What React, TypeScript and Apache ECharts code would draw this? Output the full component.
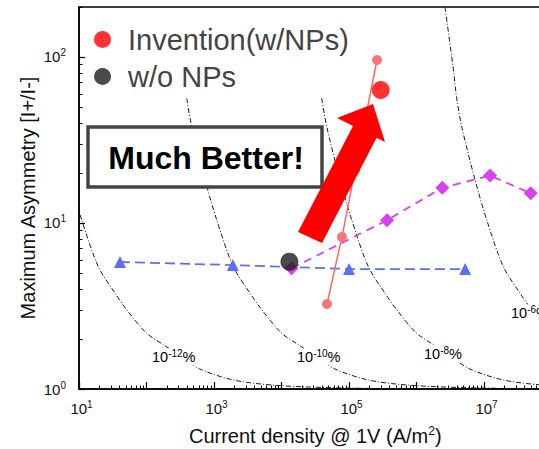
import React, { useEffect, useRef } from 'react';
import * as echarts from 'echarts';

const FONT = '"Liberation Sans", Arial, Helvetica, sans-serif';

// Axis ticks / labels
const xLabelValues = [10, 1e3, 1e5, 1e7];
const xMajorTicks = [10, 1e2, 1e3, 1e4, 1e5, 1e6, 1e7, 1e8];
const xMinorTicks = [
  20, 30, 40, 50, 60, 70, 80, 90,
  200, 300, 400, 500, 600, 700, 800, 900,
  2e3, 3e3, 4e3, 5e3, 6e3, 7e3, 8e3, 9e3,
  2e4, 3e4, 4e4, 5e4, 6e4, 7e4, 8e4, 9e4,
  2e5, 3e5, 4e5, 5e5, 6e5, 7e5, 8e5, 9e5,
  2e6, 3e6, 4e6, 5e6, 6e6, 7e6, 8e6, 9e6,
  2e7, 3e7, 4e7, 5e7, 6e7, 7e7, 8e7, 9e7,
];
const yLabelValues = [1, 10, 100];
const yMajorTicks = [1, 10, 100];
const yMinorTicks = [2, 3, 4, 5, 6, 7, 8, 9, 20, 30, 40, 50, 60, 70, 80, 90, 200];

// Series data (J in A/m^2, asymmetry)
const inventionLineJ = [4.72e4, 7.87e4, 1.23e5, 2.6e5];
const inventionLineA = [3.25, 8.24, 20.9, 95.9];
const inventionJ = [2.95e5];
const inventionA = [63.3];
const withoutJ = [1.31e4];
const withoutA = [5.85];
const blueJ = [40.5, 1905, 1.0e5, 5.25e6];
const blueA = [5.82, 5.58, 5.28, 5.28];
const magentaJ = [1.41e4, 3.66e5, 2.41e6, 1.23e7, 4.92e7];
const magentaA = [5.33, 10.4, 16.3, 19.3, 15.1];

// Iso-lines (10^-12 % curve; others are the same curve shifted by decades)
const isoBaseJ = [3.94, 4.68, 7.36, 11.0, 19.3, 34.1, 51.3, 100, 174, 316, 617, 1995, 8913, 87100, 1e6];
const isoBaseA = [56.4, 38.0, 18.2, 10.4, 5.46, 3.78, 2.99, 2.17, 1.86, 1.58, 1.32, 1.13, 1.05, 1.014, 1.002];
const isoExponents = ['-12', '-10', '-8', '-6'];
const isoDecadeShift = [0, 2, 4, 6];
// the 10^-6 % curve continues up to the top frame
const isoTopExtJ = [2.64e6, 3.48e6];
const isoTopExtA = [200, 87.1];
// label anchor positions (px, left / middle)
const isoLabelPos = [
  [152, 357],
  [297, 357],
  [424, 354],
  [511, 313],
];

const supLabel = (v: number) => {
  const e = Math.round(Math.log10(v));
  return `{b|10}{s|${e}}`;
};

export default function App() {
  const ref = useRef<HTMLDivElement>(null);

  useEffect(() => {
    if (!ref.current) return;
    const chart = echarts.init(ref.current, undefined, { renderer: 'svg' });

    const isoSeries = isoExponents.map((ex, k) => {
      const f = Math.pow(10, isoDecadeShift[k]);
      const pts = isoBaseJ.map((j, i) => [j * f, isoBaseA[i]]);
      const data = k === 3 ? isoTopExtJ.map((j, i) => [j, isoTopExtA[i]]).concat(pts) : pts;
      return {
        name: 'iso' + ex,
        type: 'line',
        data,
        xAxisIndex: 0,
        yAxisIndex: 0,
        smooth: 0.3,
        showSymbol: false,
        symbol: 'none',
        clip: true,
        silent: true,
        z: 1,
        lineStyle: { color: '#000', width: 0.9, type: [5, 2, 1, 2] },
      };
    });

    const tickRich = {
      b: { fontSize: 15, fontFamily: FONT, color: '#111', padding: [0, 0, 0, 5] },
      s: { fontSize: 10, fontFamily: FONT, color: '#111', padding: [0, 0, 8, 0] },
    };
    const yTickRich = {
      b: { fontSize: 15, fontFamily: FONT, color: '#111' },
      s: { fontSize: 10, fontFamily: FONT, color: '#111', padding: [0, 0, 8, 0] },
    };

    const isoLabelRich = {
      b: { fontSize: 14.5, fontFamily: FONT, color: '#111' },
      s: { fontSize: 10, fontFamily: FONT, color: '#111', padding: [0, 0, 7, 0] },
    };

    const option: any = {
      animation: false,
      backgroundColor: '#fff',
      grid: {
        left: 79,
        top: 7,
        width: 472.5,
        height: 382,
        show: true,
        borderColor: '#000',
        borderWidth: 1.5,
        backgroundColor: 'transparent',
        containLabel: false,
        outerBoundsMode: 'none',
      },
      legend: {
        data: ['Invention(w/NPs)', 'w/o NPs'],
        orient: 'vertical',
        left: 94,
        top: 25,
        padding: 0,
        itemGap: 8,
        itemWidth: 17,
        itemHeight: 17,
        icon: 'circle',
        selectedMode: false,
        formatter: (name: string) => `{t|${name}}`,
        textStyle: {
          fontSize: 29,
          fontFamily: FONT,
          color: '#444',
          rich: { t: { fontSize: 29, fontFamily: FONT, color: '#444', padding: [0, 0, 0, 12] } },
        },
      },
      xAxis: [
        {
          type: 'log',
          logBase: 10,
          min: 10,
          max: 1e8,
          position: 'bottom',
          name: '{t|Current density @ 1V (A/m}{s|2}{t|)}',
          nameLocation: 'middle',
          nameGap: 36,
          nameMoveOverlap: false,
          nameTextStyle: {
            rich: {
              t: { fontSize: 20, fontFamily: FONT, color: '#111' },
              s: { fontSize: 12, fontFamily: FONT, color: '#111', padding: [0, 0, 10, 0] },
            },
          },
          axisLine: { show: true, lineStyle: { color: '#000', width: 1.5 } },
          axisTick: { show: true, inside: true, length: 7, customValues: xMajorTicks, lineStyle: { color: '#000', width: 1.2 } },
          axisLabel: { customValues: xLabelValues, formatter: supLabel, rich: tickRich, margin: 10 },
          splitLine: { show: false },
          minorTick: { show: false },
        },
        {
          type: 'log',
          logBase: 10,
          min: 10,
          max: 1e8,
          position: 'bottom',
          axisLine: { show: false },
          axisTick: { show: true, inside: true, length: 3.5, customValues: xMinorTicks, lineStyle: { color: '#000', width: 1 } },
          axisLabel: { show: false },
          splitLine: { show: false },
        },
      ],
      yAxis: [
        {
          type: 'log',
          logBase: 10,
          min: 1,
          max: 200,
          position: 'left',
          name: 'Maximum Asymmetry [I+/I-]',
          nameLocation: 'middle',
          nameGap: 41,
          nameMoveOverlap: false,
          nameRotate: 90,
          nameTextStyle: { fontSize: 20, fontFamily: FONT, color: '#111' },
          axisLine: { show: true, lineStyle: { color: '#000', width: 1.5 } },
          axisTick: { show: true, inside: true, length: 6, customValues: yMajorTicks, lineStyle: { color: '#000', width: 1.2 } },
          axisLabel: { customValues: yLabelValues, formatter: supLabel, rich: yTickRich, margin: 13 },
          splitLine: { show: false },
          minorTick: { show: false },
        },
        {
          type: 'log',
          logBase: 10,
          min: 1,
          max: 200,
          position: 'left',
          axisLine: { show: false },
          axisTick: { show: true, inside: true, length: 3.5, customValues: yMinorTicks, lineStyle: { color: '#000', width: 1 } },
          axisLabel: { show: false },
          splitLine: { show: false },
        },
      ],
      series: [
        ...isoSeries,
        {
          name: 'blue',
          type: 'line',
          data: blueJ.map((j, i) => [j, blueA[i]]),
          symbol: 'triangle',
          symbolSize: 12,
          z: 3,
          itemStyle: { color: '#5b6ff2' },
          lineStyle: { color: '#5b6ff2', width: 1.8, type: [10, 5] },
        },
        {
          name: 'magenta',
          type: 'line',
          data: magentaJ.map((j, i) => [j, magentaA[i]]),
          symbol: 'diamond',
          symbolSize: 14,
          z: 3,
          itemStyle: { color: '#d940f0' },
          lineStyle: { color: '#d940f0', width: 1.8, type: [8, 6] },
        },
        {
          name: 'inventionLine',
          type: 'line',
          data: inventionLineJ.map((j, i) => [j, inventionLineA[i]]),
          symbol: 'circle',
          symbolSize: 10,
          z: 4,
          itemStyle: { color: '#f47878' },
          lineStyle: { color: '#f46a6a', width: 1.5 },
        },
        {
          name: 'Invention(w/NPs)',
          type: 'scatter',
          data: inventionJ.map((j, i) => [j, inventionA[i]]),
          symbol: 'circle',
          symbolSize: 18,
          z: 5,
          itemStyle: { color: '#ff0000' },
        },
        {
          name: 'w/o NPs',
          type: 'scatter',
          data: withoutJ.map((j, i) => [j, withoutA[i]]),
          symbol: 'circle',
          symbolSize: 18,
          z: 5,
          itemStyle: { color: '#1e1e1e' },
        },
      ],
      graphic: [
        ...isoExponents.map((ex, k) => ({
          type: 'text',
          x: isoLabelPos[k][0],
          y: isoLabelPos[k][1],
          z: 50,
          silent: true,
          style: {
            text: `{b|10}{s|${ex}}{b|%}`,
            rich: isoLabelRich,
            verticalAlign: 'middle',
            align: 'left',
            backgroundColor: '#fff',
          },
        })),
        {
          type: 'rect',
          z: 60,
          shape: { x: 88, y: 127, width: 234, height: 60 },
          style: { fill: '#fff', stroke: '#444', lineWidth: 3.5 },
        },
        {
          type: 'text',
          z: 61,
          x: 206,
          y: 158,
          style: {
            text: 'Much Better!',
            fontSize: 32,
            fontWeight: 'bold',
            fontFamily: FONT,
            fill: '#000',
            align: 'center',
            verticalAlign: 'middle',
          },
        },
        {
          type: 'polygon',
          z: 70,
          shape: {
            points: [
              [298, 232],
              [353, 126],
              [337, 118],
              [373, 104],
              [385, 142],
              [376.6, 137.8],
              [322, 243],
            ],
          },
          style: { fill: '#ff0000', stroke: 'none' },
        },
      ],
    };

    chart.setOption(option);
    return () => chart.dispose();
  }, []);

  return (
    <div style={{ position: 'fixed', left: 0, top: 0, width: 539, height: 449, overflow: 'hidden', background: '#fff' }}>
      <div ref={ref} style={{ width: 620, height: 449 }} />
    </div>
  );
}
